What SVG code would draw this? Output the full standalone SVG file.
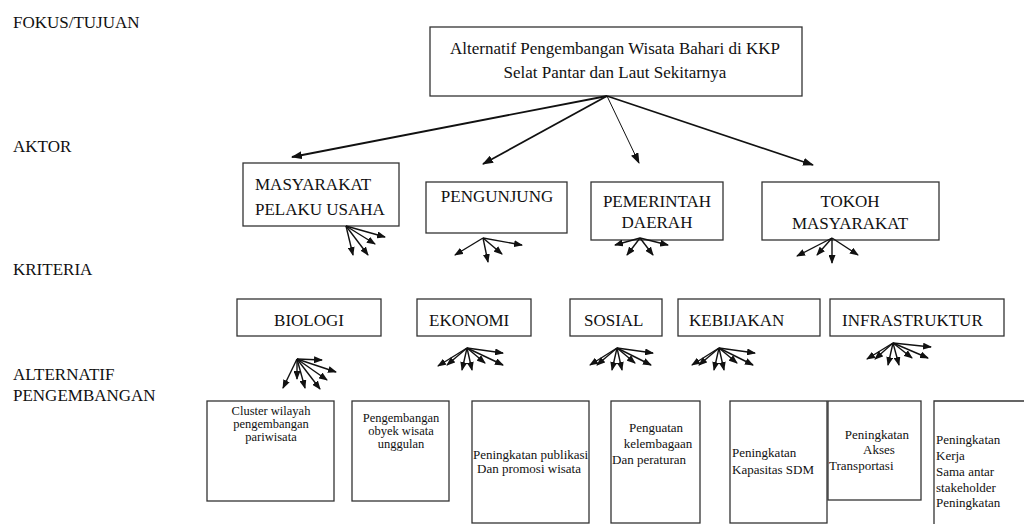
<svg xmlns="http://www.w3.org/2000/svg" width="1024" height="524" viewBox="0 0 1024 524" font-family="'Liberation Serif', 'DejaVu Serif', serif">
<style>
text{font-family:'Liberation Serif','DejaVu Serif',serif;fill:#111}
.lbl{font-size:17px}
.n{font-size:17px}
.s{font-size:13px}
.ss{font-size:12.5px}
.box{fill:#fff;stroke:#333;stroke-width:1.3}
.c{stroke:#111;fill:none}
.t{stroke-width:1.8}
.f{stroke-width:1.4}
</style>
<defs>
<marker id="ab" markerUnits="userSpaceOnUse" markerWidth="11" markerHeight="8" refX="10" refY="4" orient="auto"><path d="M0,0 L11,4 L0,8 z" fill="#111"/></marker>
<marker id="as" markerUnits="userSpaceOnUse" markerWidth="9" markerHeight="7" refX="8" refY="3.5" orient="auto"><path d="M0,0 L9,3.5 L0,7 z" fill="#111"/></marker>
</defs>
<rect width="1024" height="524" fill="#fff"/>
<g id="levels">
<text class="lbl" x="13" y="28">FOKUS/TUJUAN</text>
<text class="lbl" x="13" y="152">AKTOR</text>
<text class="lbl" x="13" y="275">KRITERIA</text>
<text class="lbl" x="13" y="380">ALTERNATIF</text>
<text class="lbl" x="13" y="401">PENGEMBANGAN</text>
</g>
<g id="goal">
<rect class="box" x="430" y="27" width="372" height="69"/>
<text class="n" x="615" y="54" text-anchor="middle">Alternatif Pengembangan Wisata Bahari di KKP</text>
<text class="n" x="615" y="78" text-anchor="middle">Selat Pantar dan Laut Sekitarnya</text>
</g>
<g id="aktor-masyarakat">
<rect class="box" x="243" y="163" width="156" height="63"/>
<text class="n" x="255" y="190">MASYARAKAT</text>
<text class="n" x="255" y="215">PELAKU USAHA</text>
</g>
<g id="aktor-pengunjung">
<rect class="box" x="426" y="182" width="141" height="51"/>
<text class="n" x="497" y="202" text-anchor="middle">PENGUNJUNG</text>
</g>
<g id="aktor-pemerintah">
<rect class="box" x="591" y="182" width="132" height="58"/>
<text class="n" x="657" y="207" text-anchor="middle">PEMERINTAH</text>
<text class="n" x="657" y="228" text-anchor="middle">DAERAH</text>
</g>
<g id="aktor-tokoh">
<rect class="box" x="762" y="182" width="177" height="58"/>
<text class="n" x="850" y="207" text-anchor="middle">TOKOH</text>
<text class="n" x="850" y="229" text-anchor="middle">MASYARAKAT</text>
</g>
<g id="k-biologi">
<rect class="box" x="237" y="299" width="144" height="37"/>
<text class="n" x="309" y="326" text-anchor="middle">BIOLOGI</text>
</g>
<g id="k-ekonomi">
<rect class="box" x="417" y="299" width="114" height="37"/>
<text class="n" x="429" y="326">EKONOMI</text>
</g>
<g id="k-sosial">
<rect class="box" x="570" y="299" width="92" height="37"/>
<text class="n" x="584" y="326">SOSIAL</text>
</g>
<g id="k-kebijakan">
<rect class="box" x="678" y="299" width="142" height="37"/>
<text class="n" x="689" y="326">KEBIJAKAN</text>
</g>
<g id="k-infrastruktur">
<rect class="box" x="830" y="299" width="174" height="37"/>
<text class="n" x="842" y="326">INFRASTRUKTUR</text>
</g>
<g id="a-cluster">
<rect class="box" x="207" y="401" width="127" height="100"/>
<text class="ss" x="271" y="415" text-anchor="middle">Cluster wilayah</text>
<text class="ss" x="271" y="428" text-anchor="middle">pengembangan</text>
<text class="ss" x="271" y="441" text-anchor="middle">pariwisata</text>
</g>
<g id="a-obyek">
<rect class="box" x="352" y="401" width="97" height="100"/>
<text class="ss" x="401" y="422" text-anchor="middle">Pengembangan</text>
<text class="ss" x="401" y="435" text-anchor="middle">obyek wisata</text>
<text class="ss" x="401" y="448" text-anchor="middle">unggulan</text>
</g>
<g id="a-publikasi">
<rect class="box" x="472" y="401" width="117" height="122"/>
<text class="s" x="473" y="459">Peningkatan publikasi</text>
<text class="s" x="529" y="473" text-anchor="middle">Dan promosi wisata</text>
</g>
<g id="a-kelembagaan">
<rect class="box" x="611" y="401" width="89" height="122"/>
<text class="s" x="656" y="432" text-anchor="middle">Penguatan</text>
<text class="s" x="658" y="448" text-anchor="middle">kelembagaan</text>
<text class="s" x="612" y="464">Dan peraturan</text>
</g>
<g id="a-sdm">
<rect class="box" x="730" y="401" width="97" height="122"/>
<text class="s" x="732" y="457">Peningkatan</text>
<text class="s" x="732" y="474">Kapasitas SDM</text>
</g>
<g id="a-akses">
<rect class="box" x="828" y="401" width="93" height="99"/>
<text class="s" x="877" y="439" text-anchor="middle">Peningkatan</text>
<text class="s" x="879" y="454" text-anchor="middle">Akses</text>
<text class="s" x="829" y="470">Transportasi</text>
</g>
<g id="a-kerjasama">
<path class="box" d="M1024,401 L934,401 L934,524" fill="none"/>
<text class="s" x="936" y="444">Peningkatan</text>
<text class="s" x="936" y="460">Kerja</text>
<text class="s" x="936" y="476">Sama antar</text>
<text class="s" x="936" y="492">stakeholder</text>
<text class="s" x="936" y="507">Peningkatan</text>
</g>
<g id="connectors">
<g class="c t" marker-end="url(#ab)">
<line x1="607" y1="96" x2="292" y2="157"/>
<line x1="607" y1="96" x2="483" y2="164"/>
<line x1="607" y1="96" x2="813" y2="165"/>
</g>
<line class="c" stroke-width="1" marker-end="url(#ab)" x1="607" y1="96" x2="639" y2="163"/>
<g class="c f" marker-end="url(#as)">
<line x1="346" y1="226" x2="353" y2="255"/>
<line x1="346" y1="226" x2="368" y2="255"/>
<line x1="346" y1="226" x2="375" y2="244"/>
<line x1="346" y1="226" x2="385" y2="237"/>
<line x1="483" y1="238" x2="455" y2="255"/>
<line x1="483" y1="238" x2="488" y2="262"/>
<line x1="483" y1="238" x2="502" y2="254"/>
<line x1="483" y1="238" x2="522" y2="245"/>
<line x1="640" y1="238" x2="615" y2="245"/>
<line x1="640" y1="238" x2="627" y2="255"/>
<line x1="640" y1="238" x2="653" y2="255"/>
<line x1="640" y1="238" x2="668" y2="245"/>
<line x1="832" y1="238" x2="797" y2="256"/>
<line x1="832" y1="238" x2="817" y2="255"/>
<line x1="832" y1="238" x2="832" y2="263"/>
<line x1="832" y1="238" x2="858" y2="255"/>
<line x1="297" y1="359" x2="283" y2="388"/>
<line x1="297" y1="359" x2="297" y2="379"/>
<line x1="297" y1="359" x2="305" y2="388"/>
<line x1="297" y1="359" x2="320" y2="389"/>
<line x1="297" y1="359" x2="327" y2="380"/>
<line x1="297" y1="359" x2="336" y2="372"/>
<line x1="297" y1="359" x2="322" y2="360"/>
<line x1="467" y1="348" x2="438" y2="366"/>
<line x1="467" y1="348" x2="447" y2="365"/>
<line x1="467" y1="348" x2="462" y2="370"/>
<line x1="467" y1="348" x2="472" y2="370"/>
<line x1="467" y1="348" x2="485" y2="363"/>
<line x1="467" y1="348" x2="503" y2="365"/>
<line x1="467" y1="348" x2="503" y2="353"/>
<line x1="617" y1="348" x2="590" y2="365"/>
<line x1="617" y1="348" x2="597" y2="365"/>
<line x1="617" y1="348" x2="612" y2="370"/>
<line x1="617" y1="348" x2="622" y2="370"/>
<line x1="617" y1="348" x2="635" y2="363"/>
<line x1="617" y1="348" x2="651" y2="365"/>
<line x1="617" y1="348" x2="653" y2="353"/>
<line x1="719" y1="348" x2="692" y2="365"/>
<line x1="719" y1="348" x2="699" y2="365"/>
<line x1="719" y1="348" x2="714" y2="370"/>
<line x1="719" y1="348" x2="724" y2="370"/>
<line x1="719" y1="348" x2="737" y2="363"/>
<line x1="719" y1="348" x2="753" y2="365"/>
<line x1="719" y1="348" x2="755" y2="353"/>
<line x1="893" y1="343" x2="867" y2="359"/>
<line x1="893" y1="343" x2="875" y2="359"/>
<line x1="893" y1="343" x2="888" y2="365"/>
<line x1="893" y1="343" x2="899" y2="365"/>
<line x1="893" y1="343" x2="912" y2="358"/>
<line x1="893" y1="343" x2="928" y2="358"/>
<line x1="893" y1="343" x2="931" y2="347"/>
</g>
</g>
</svg>
